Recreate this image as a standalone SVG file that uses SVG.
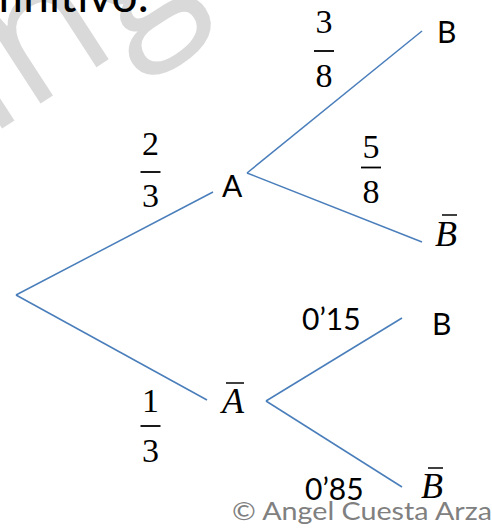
<svg xmlns="http://www.w3.org/2000/svg" width="492" height="528" viewBox="0 0 492 528">
<style>
.edge{stroke:#4a7ebb;stroke-width:1.5;fill:none}
.lbl{font-family:Lato,"Open Sans","Liberation Sans",sans-serif;font-size:30px;fill:#000}
.num{font-family:"Liberation Serif","DejaVu Serif",serif;font-size:34px;fill:#000;text-anchor:middle}
.ital{font-family:"Liberation Serif","DejaVu Serif",serif;font-style:italic;font-size:36px;fill:#000}
.bar{stroke:#000;stroke-width:1.8}
.obar{stroke:#000;stroke-width:1.5}
</style>
<rect width="492" height="528" fill="#fff"/>
<text transform="translate(-11,137) rotate(-33)" font-family="'Open Sans',sans-serif" font-size="182" fill="#d9d9d9">ing</text>
<text x="149" y="12" text-anchor="end" font-family="Lato,'Open Sans',sans-serif" font-size="46" fill="#000">definitivo:</text>
<g id="connectors">
<line class="edge" x1="16" y1="295" x2="213" y2="192"/>
<line class="edge" x1="16" y1="295" x2="207" y2="400"/>
<line class="edge" x1="247" y1="173" x2="422" y2="31"/>
<line class="edge" x1="247" y1="173" x2="422" y2="242"/>
<line class="edge" x1="266" y1="401" x2="402" y2="318"/>
<line class="edge" x1="266" y1="401" x2="402" y2="487"/>
</g>
<g id="edge-labels">
<g id="p-B-A"><text class="num" x="324" y="33">3</text><line class="bar" x1="314" y1="51" x2="334" y2="51"/><text class="num" x="324" y="87">8</text></g>
<g id="p-A"><text class="num" x="150.5" y="155">2</text><line class="bar" x1="140.5" y1="172" x2="160.5" y2="172"/><text class="num" x="150.5" y="207">3</text></g>
<g id="p-notB-A"><text class="num" x="371" y="158">5</text><line class="bar" x1="361" y1="167.5" x2="381" y2="167.5"/><text class="num" x="371" y="203">8</text></g>
<g id="p-notA"><text class="num" x="150.5" y="412">1</text><line class="bar" x1="140.5" y1="426" x2="160.5" y2="426"/><text class="num" x="150.5" y="462">3</text></g>
<text id="p-B-notA" class="lbl" x="302" y="330">0’15</text>
<text id="p-notB-notA" class="lbl" x="305" y="500">0’85</text>
</g>
<g id="node-root"/>
<g id="node-A"><text class="lbl" x="222" y="197">A</text></g>
<g id="node-notA"><text class="ital" x="222" y="413">A</text><line class="obar" x1="226" y1="383" x2="244" y2="383"/></g>
<g id="node-B1"><text class="lbl" x="437" y="43">B</text></g>
<g id="node-notB1"><text class="ital" x="435" y="246">B</text><line class="obar" x1="442" y1="215" x2="457" y2="215"/></g>
<g id="node-B2"><text class="lbl" x="432" y="335">B</text></g>
<g id="node-notB2"><text class="ital" x="421" y="498">B</text><line class="obar" x1="428" y1="468" x2="443" y2="468"/></g>
<text x="232" y="520" font-family="Lato,'Open Sans',sans-serif" font-size="25" fill="#808080" textLength="260" lengthAdjust="spacingAndGlyphs">© Angel Cuesta Arza</text>
</svg>
